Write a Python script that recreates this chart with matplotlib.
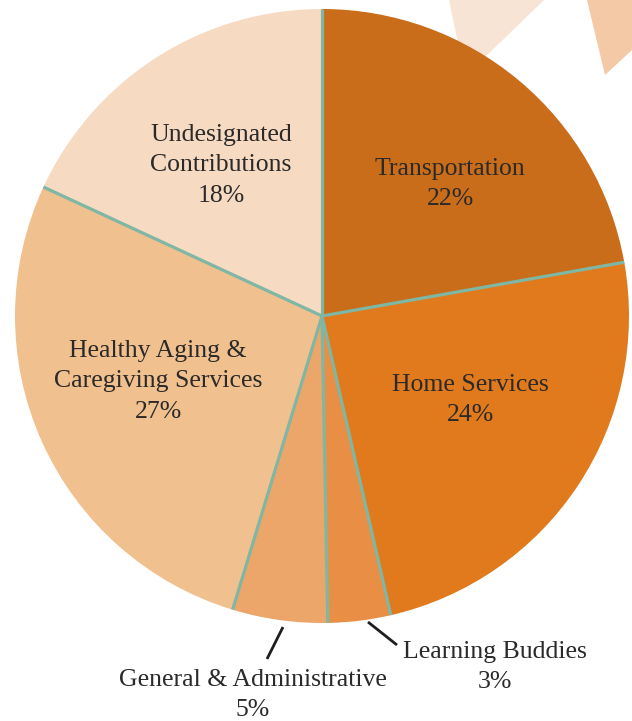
import matplotlib
matplotlib.use("Agg")
import matplotlib.pyplot as plt
from matplotlib.patches import Polygon
import numpy as np

categories = ["Transportation", "Home Services", "Learning Buddies",
              "General & Administrative", "Healthy Aging &\nCaregiving Services",
              "Undesignated\nContributions"]
values = [22.2, 24.2, 3.3, 5.0, 27.2, 18.1]
pct_labels = ["22%", "24%", "3%", "5%", "27%", "18%"]
colors = ["#C96D1A", "#E07A1D", "#E98F45", "#ECA66A", "#F1C08F", "#F6DAC2"]

W, H = 632, 721
fig = plt.figure(figsize=(W / 100, H / 100), dpi=100)
ax = fig.add_axes([0, 0, 1, 1])

def Y(y):
    return H - y

# decorative background shapes
ax.add_patch(Polygon([(449, Y(0)), (544, Y(0)), (480, Y(62)), (462, Y(62))],
                     closed=True, facecolor="#F8E4D5", edgecolor="none", zorder=0))
ax.add_patch(Polygon([(587, Y(0)), (632, Y(0)), (632, Y(50)), (605, Y(75))],
                     closed=True, facecolor="#F4C9A5", edgecolor="none", zorder=0))

cx, cy, R = 322, Y(316), 307
wedges, _ = ax.pie(values, colors=colors, startangle=90, counterclock=False,
                   center=(cx, cy), radius=R, frame=True,
                   wedgeprops=dict(edgecolor="none", linewidth=0))
# radial separator lines (no outer outline)
for w in wedges:
    a = np.deg2rad(w.theta1)
    ax.plot([cx, cx + R * np.cos(a)], [cy, cy + R * np.sin(a)],
            color="#7FB6A4", lw=2.3, solid_capstyle="butt", zorder=3)

ax.set_xlim(0, W)
ax.set_ylim(0, H)
ax.set_aspect("equal")
ax.axis("off")

txt = dict(ha="center", va="center", fontsize=18.5, color="#2B2A29",
           family=["Liberation Serif", "DejaVu Serif"], linespacing=1.5, zorder=5)

label_pos = [(450, 184), (470, 400), (495, 667), (253, 695), (158, 381), (221, 165)]
for name, pct, (x, y) in zip(categories, pct_labels, label_pos):
    ax.text(x, Y(y), name + "\n" + pct, **txt)

# leader lines
ax.plot([283, 267], [Y(627), Y(659)], color="#1E1E1E", lw=2, solid_capstyle="butt", zorder=5)
ax.plot([368, 397], [Y(622), Y(645)], color="#1E1E1E", lw=2, solid_capstyle="butt", zorder=5)

fig.savefig("out.png", dpi=100, facecolor="white")
